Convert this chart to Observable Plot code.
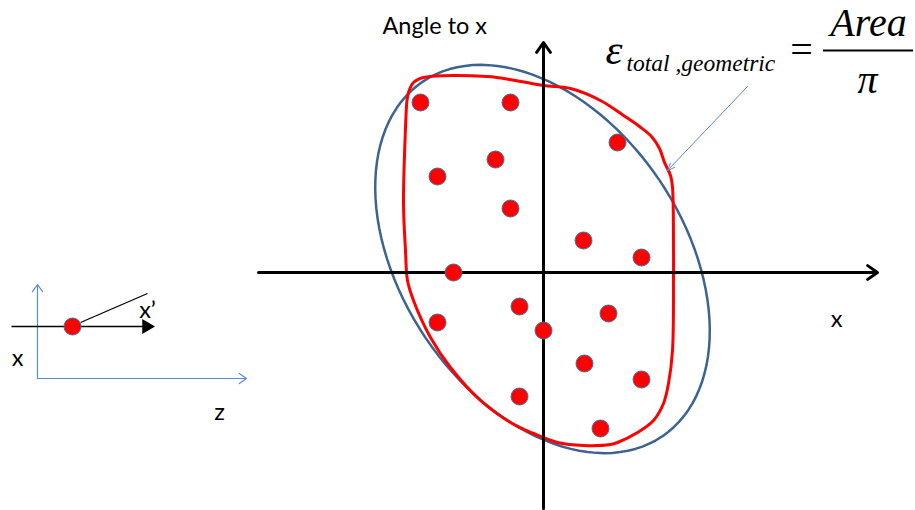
<!DOCTYPE html>
<html><head><meta charset="utf-8">
<script src="https://cdn.jsdelivr.net/npm/d3@7"></script>
<script src="https://cdn.jsdelivr.net/npm/@observablehq/plot@0.6"></script>
<style>body{margin:0;background:#fff}#chart svg{display:block}</style>
</head><body><div id="chart"></div>
<script>
// Diagram units: origin at the crossing of the x / angle axes, angle up.
const particleX = [-123, -33, 74, -48, -106, -33, 40, 98, -90, -24, -106, 0, 65, 41, 98, -24, 57];
const particleA = [170, 170, 130, 113, 96, 64, 32, 15, 0, -34, -50, -58, -41, -91, -107, -124, -156];

// hand-drawn red boundary around the particles
const outlineX = [-137, -135, -130, -120, -56, -28, 0, 27, 57, 80, 96, 108, 116, 121, 127, 129, 130, 130, 129, 125, 120, 110, 94, 74, 67, 40, 14, -10, -33, -63, -93, -113, -130, -136, -138, -140, -138, -137];
const outlineA = [167, 180, 190, 195, 196, 192, 187, 184, 172, 157, 146, 136, 124, 110, 97, 85, 22, -5, -78, -111, -131, -148, -160, -170, -172, -173, -170, -161, -150, -128, -95, -65, -28, -8, 22, 69, 145, 167];

// fitted rms ellipse: centre, semi-axes, tilt (degrees)
const ellipseCentre = [-1, 13.5];
const ellipseAxes = [214, 141];
const ellipseTilt = -56;

// phase-space axes
const axisH = {x1: -285, y1: 0, x2: 334, y2: 0};
const axisV = {x1: 0, y1: -236, x2: 0, y2: 230};

// inset: beam coordinate sketch
const insetDot = [{x: -471, y: -54}];
const insetBlueAxes = [
  {x1: -506, y1: -106, x2: -506, y2: -12},
  {x1: -506, y1: -106, x2: -297, y2: -106}
];
const insetBeamLine = [{x1: -532, y1: -54, x2: -398, y2: -54}];
const insetBeamHead = [{x: -397, y: -54}];
const insetSlope = [{x1: -463, y1: -50, x2: -396, y2: -21}];

// leader arrow from formula to boundary
const leader = [{x1: 204, y1: 186, x2: 124, y2: 102}];

// labels
const axisTitle = [{x: -161, y: 246, text: "Angle to x"}];
const sansLabels = [
  {x: 293, y: -47, text: "x"},
  {x: -324, y: -140, text: "z"},
  {x: -526, y: -86, text: "x"},
  {x: -396, y: -38, text: "x\u2019"}
];

const tilt = ellipseTilt * Math.PI / 180;
const ellipsePts = d3.range(0, 361, 3).map(d => {
  const t = d * Math.PI / 180;
  return {
    x: ellipseCentre[0] + ellipseAxes[0] * Math.cos(tilt) * Math.cos(t) - ellipseAxes[1] * Math.sin(tilt) * Math.sin(t),
    y: ellipseCentre[1] + ellipseAxes[0] * Math.sin(tilt) * Math.cos(t) + ellipseAxes[1] * Math.cos(tilt) * Math.sin(t)
  };
});
const particles = particleX.map((x, i) => ({x, y: particleA[i]}));
const outline = outlineX.map((x, i) => ({x, y: outlineA[i]}));

const serif = "'Liberation Serif', 'Times New Roman', serif";
const sans = "Lato, 'Open Sans', sans-serif";

const chart = Plot.plot({
  width: 915, height: 510,
  margin: 0,
  style: {background: "#fff", overflow: "visible"},
  x: {domain: [-543, 372], range: [0, 915], axis: null},
  y: {domain: [-238, 272], range: [510, 0], axis: null},
  marks: [
    Plot.line(ellipsePts, {x: "x", y: "y", stroke: "#3d6491", strokeWidth: 2.5, curve: "linear-closed"}),
    Plot.line(outline, {x: "x", y: "y", stroke: "#ff0000", strokeWidth: 3, strokeLinejoin: "round", curve: "catmull-rom"}),
    Plot.arrow([axisH, axisV], {x1: "x1", y1: "y1", x2: "x2", y2: "y2", stroke: "#000", strokeWidth: 3, headLength: 6, headAngle: 70}),
    Plot.dot(particles, {x: "x", y: "y", r: 8.5, fill: "#ff0000", stroke: "#41719c", strokeWidth: 1}),
    // inset
    Plot.arrow(insetBlueAxes, {x1: "x1", y1: "y1", x2: "x2", y2: "y2", stroke: "#5b8bd0", strokeWidth: 1.2, headLength: 11, headAngle: 70}),
    Plot.link(insetBeamLine, {x1: "x1", y1: "y1", x2: "x2", y2: "y2", stroke: "#000", strokeWidth: 1.5}),
    Plot.dot(insetBeamHead, {x: "x", y: "y", symbol: "triangle", r: 5.5, fill: "#000", rotate: 90}),
    Plot.link(insetSlope, {x1: "x1", y1: "y1", x2: "x2", y2: "y2", stroke: "#000", strokeWidth: 1.3}),
    Plot.dot(insetDot, {x: "x", y: "y", r: 8.5, fill: "#ff0000", stroke: "#41719c", strokeWidth: 1}),
    // leader
    Plot.arrow(leader, {x1: "x1", y1: "y1", x2: "x2", y2: "y2", stroke: "#5b8bd0", strokeWidth: 1, headLength: 12, headAngle: 45}),
    // labels
    Plot.text(axisTitle, {x: "x", y: "y", text: "text", textAnchor: "start", fontFamily: sans, fontSize: 23.5, fill: "#000"}),
    Plot.text(sansLabels, {x: "x", y: "y", text: "text", textAnchor: "middle", fontFamily: sans, fontSize: 23.5, fill: "#000"}),
    // formula
    Plot.text([{x: 62, y: 209, t: "\u03B5"}], {x: "x", y: "y", text: "t", textAnchor: "start", lineAnchor: "bottom", fontFamily: serif, fontStyle: "italic", fontSize: 43, fill: "#000"}),
    Plot.text([{x: 83, y: 202, t: "total ,geometric"}], {x: "x", y: "y", text: "t", textAnchor: "start", lineAnchor: "bottom", fontFamily: serif, fontStyle: "italic", fontSize: 23.5, fill: "#000"}),
    Plot.text([{x: 258, y: 210, t: "="}], {x: "x", y: "y", text: "t", textAnchor: "middle", lineAnchor: "bottom", fontFamily: serif, fontSize: 40, fill: "#000"}),
    Plot.text([{x: 325, y: 237, t: "Area"}], {x: "x", y: "y", text: "t", textAnchor: "middle", lineAnchor: "bottom", fontFamily: serif, fontStyle: "italic", fontSize: 40, fill: "#000"}),
    Plot.ruleY([222], {x1: 280, x2: 370, stroke: "#000", strokeWidth: 2}),
    Plot.text([{x: 324, y: 180, t: "\u03C0"}], {x: "x", y: "y", text: "t", textAnchor: "middle", lineAnchor: "bottom", fontFamily: serif, fontStyle: "italic", fontSize: 40, fill: "#000"})
  ]
});
document.getElementById("chart").append(chart);
</script>
</body></html>
